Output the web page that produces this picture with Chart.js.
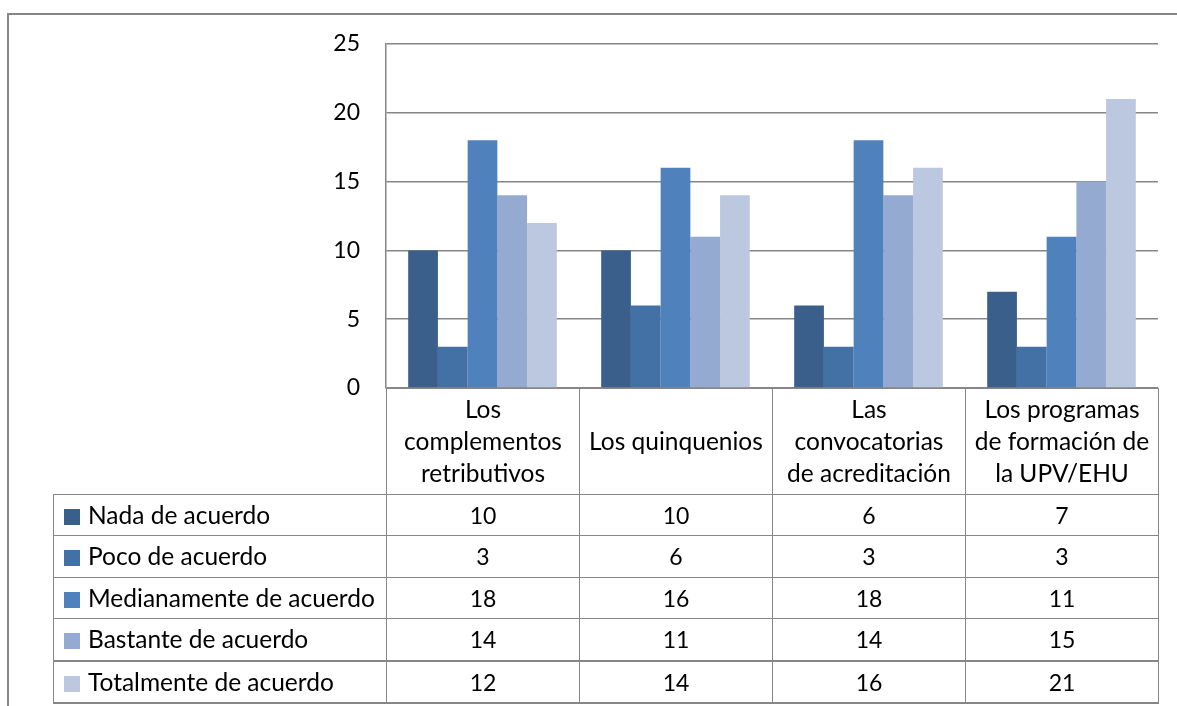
<!DOCTYPE html>
<html lang="es">
<head>
<meta charset="utf-8">
<title>Grado de acuerdo</title>
<script src="https://cdn.jsdelivr.net/npm/chart.js@4.4.1/dist/chart.umd.min.js"></script>
<style>
    html, body { margin: 0; padding: 0; background: #fff; }
    #wrap {
        position: relative;
        width: 1177px;
        height: 706px;
        overflow: hidden;
        font-family: Lato, 'Liberation Sans', sans-serif;
    }
    #frame {
        position: absolute;
        left: 7px; top: 13px; right: -10px; bottom: -10px;
        border-top: 2px solid #868686;
        border-left: 2px solid #868686;
    }
    #chart { position: absolute; left: 0; top: 0; }
    #dataTable {
        position: absolute;
        border-collapse: collapse;
        table-layout: fixed;
        font-size: 23px;
        color: #000;
    }
    #dataTable td {
        border: 1px solid #868686;
        padding: 0;
        text-align: center;
        vertical-align: middle;
        white-space: nowrap;
        overflow: hidden;
    }
    #dataTable tr.head td { height: 105px; line-height: 32px; font-size: 24.5px; }
    #dataTable tr.head td.blank { border-top: none; border-left: none; border-bottom: 1px solid #868686; }
    #dataTable tr.row td { height: 40.5px; line-height: 24px; }
    #dataTable tr.last td { border-top: 2px solid #868686; border-bottom: 2px solid #868686; }
    #dataTable td.series { text-align: left; padding-left: 10px; font-size: 24.5px; }
    .swatch {
        display: inline-block;
        width: 16px; height: 16px;
        margin-right: 8px;
        vertical-align: -1px;
    }
</style>
</head>
<body>
<div id="wrap">
    <div id="frame"></div>
    <canvas id="chart" width="1177" height="706"></canvas>
    <table id="dataTable"></table>
</div>
<script>
// ==================== DATA ====================
const categories = [
    ['Los', 'complementos', 'retributivos'],
    ['Los quinquenios'],
    ['Las', 'convocatorias', 'de acreditación'],
    ['Los programas', 'de formación de', 'la UPV/EHU']
];
const seriesNames = [
    'Nada de acuerdo',
    'Poco de acuerdo',
    'Medianamente de acuerdo',
    'Bastante de acuerdo',
    'Totalmente de acuerdo'
];
const nada = [10, 10, 6, 7];
const poco = [3, 6, 3, 3];
const medianamente = [18, 16, 18, 11];
const bastante = [14, 11, 14, 15];
const totalmente = [12, 14, 16, 21];
const yTicks = [0, 5, 10, 15, 20, 25];

const seriesValues = [nada, poco, medianamente, bastante, totalmente];
const seriesColors = ['#3B5F8B', '#4471A5', '#4F81BD', '#95AAD0', '#BCC8E0'];
const gridColor = '#868686';

// ==================== CHART ====================
Chart.defaults.font.family = "Lato, 'Liberation Sans', sans-serif";
Chart.defaults.font.size = 23;
Chart.defaults.color = '#000';

const ctx = document.getElementById('chart').getContext('2d');
const chart = new Chart(ctx, {
    type: 'bar',
    data: {
        labels: categories,
        datasets: seriesNames.map((name, i) => ({
            label: name,
            data: seriesValues[i],
            backgroundColor: seriesColors[i],
            borderWidth: 0,
            categoryPercentage: 0.77,
            barPercentage: 1.0
        }))
    },
    options: {
        responsive: false,
        animation: false,
        layout: {
            padding: { left: 0, top: 44, right: 19, bottom: 318 }
        },
        plugins: {
            legend: { display: false },
            tooltip: { enabled: false }
        },
        scales: {
            x: {
                grid: { display: false, drawTicks: false },
                border: { display: true, color: gridColor, width: 1 },
                ticks: { display: false },
                afterFit: s => { s.height = 0; }
            },
            y: {
                min: 0,
                max: 25,
                afterBuildTicks: s => { s.ticks = yTicks.map(v => ({ value: v })); },
                grid: { color: gridColor, lineWidth: 1.5, drawTicks: false },
                border: { display: true, color: gridColor, width: 1.5 },
                ticks: { padding: 26 },
                afterFit: s => { s.width = 386; }
            }
        }
    }
});

// ==================== DATA TABLE ====================
function buildTable(chart) {
    const area = chart.chartArea;
    const colWidth = (area.right - area.left) / categories.length;
    const tableLeft = 53;
    const table = document.getElementById('dataTable');
    table.style.left = tableLeft + 'px';
    table.style.top = (area.bottom - 0.5) + 'px';
    table.style.width = (area.right - tableLeft) + 'px';

    let html = '<colgroup><col style="width:' + (area.left - tableLeft) + 'px">';
    categories.forEach(() => { html += '<col style="width:' + colWidth + 'px">'; });
    html += '</colgroup>';

    html += '<tr class="head"><td class="blank"></td>';
    categories.forEach(c => { html += '<td>' + c.join('<br>') + '</td>'; });
    html += '</tr>';

    seriesNames.forEach((name, i) => {
        const cls = i === seriesNames.length - 1 ? 'row last' : 'row';
        html += '<tr class="' + cls + '"><td class="series"><span class="swatch" style="background:' +
            seriesColors[i] + '"></span>' + name + '</td>';
        seriesValues[i].forEach(v => { html += '<td>' + v + '</td>'; });
        html += '</tr>';
    });

    table.innerHTML = html;
}

buildTable(chart);
</script>
</body>
</html>
